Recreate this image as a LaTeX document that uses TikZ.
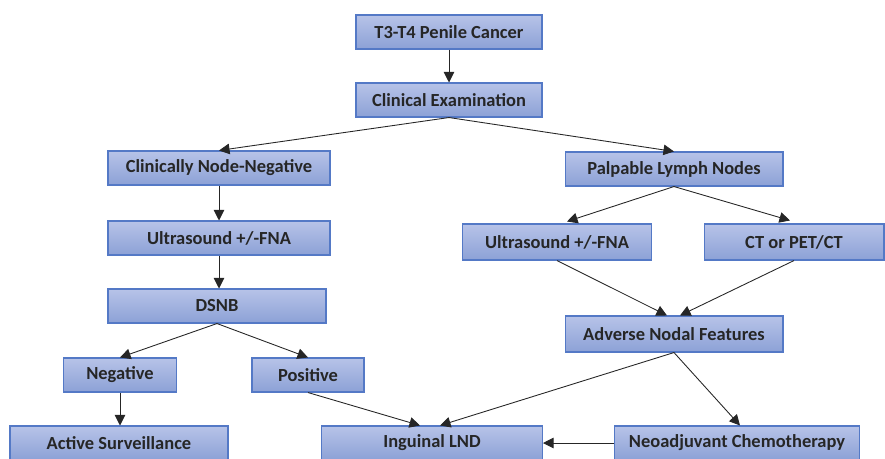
\documentclass[tikz,border=0pt]{standalone}
\usepackage{fontspec}
\setmainfont{Carlito}
\usepackage{tikz}
\usetikzlibrary{arrows.meta,calc,positioning}
\definecolor{boxtop}{HTML}{B7C3E8}
\definecolor{boxmid}{HTML}{A4B3E0}
\definecolor{boxbot}{HTML}{8CA1D6}
\definecolor{boxline}{HTML}{5479C6}
\definecolor{txt}{HTML}{262626}

\begin{document}
\begin{tikzpicture}[x=0.02cm, y=-0.02cm,
  stepbox/.style={draw=boxline, line width=0.6pt, top color=boxtop, middle color=boxmid,
    bottom color=boxbot, minimum height=0.68cm, inner sep=0pt,
    font=\bfseries\fontsize{10.5}{12}\selectfont, text=txt},
  arr/.style={-{Triangle[length=6pt,width=6pt]}, line width=0.5pt, black!85}]
\useasboundingbox (0,0) rectangle (885,458);
% Ramo centrale
\node[stepbox, minimum width=3.72cm] (canc) at (449,32) {T3-T4 Penile Cancer};
\node[stepbox, minimum width=3.72cm] (clin) at (449,100) {Clinical Examination};
% Ramo sinistro (cN0)
\node[stepbox, minimum width=4.44cm] (cnn) at (219,168) {Clinically Node-Negative};
\node[stepbox, minimum width=4.44cm] (usl) at (219,238) {Ultrasound +/-FNA};
\node[stepbox, minimum width=4.36cm] (dsnb) at (217,306) {DSNB};
\node[stepbox, minimum width=2.26cm] (neg) at (120,375) {Negative};
\node[stepbox, minimum width=2.24cm] (pos) at (308,375) {Positive};
\node[stepbox, minimum width=4.36cm] (surv) at (119,443) {Active Surveillance};
% Ramo destro (cN+)
\node[stepbox, minimum width=4.36cm] (palp) at (674,169) {Palpable Lymph Nodes};
\node[stepbox, minimum width=3.78cm, minimum height=0.72cm] (usr) at (557,242) {Ultrasound +/-FNA};
\node[stepbox, minimum width=3.6cm, minimum height=0.72cm] (ct) at (794,242) {CT or PET/CT};
\node[stepbox, minimum width=4.36cm, minimum height=0.72cm] (adv) at (674,334) {Adverse Nodal Features};
% Fondo
\node[stepbox, minimum width=4.42cm] (lnd) at (432,443) {Inguinal LND};
\node[stepbox, minimum width=4.9cm] (chemo) at (737,443) {Neoadjuvant Chemotherapy};
% Frecce
\draw[arr] (canc) -- (clin);
\draw[arr] (clin.south) -- (cnn.north);
\draw[arr] (clin.south) -- (palp.north);
\draw[arr] (cnn) -- (usl);
\draw[arr] (usl.south) -- (usl.south |- dsnb.north);
\draw[arr] (dsnb.south) -- (neg.north);
\draw[arr] (dsnb.south) -- (pos.north);
\draw[arr] (neg) -- (neg |- surv.north);
\draw[arr] (palp.south) -- ($(usr.north)+(10,-2)$);
\draw[arr] (palp.south) -- ($(ct.north)+(-4,-3)$);
\draw[arr] (usr.south) -- ($(adv.north)+(-7,0)$);
\draw[arr] (ct.south) -- ($(adv.north)+(6,0)$);
\draw[arr] (pos.south) -- ($(lnd.north)+(-12,0)$);
\draw[arr] (adv.south) -- ($(lnd.north)+(8,0)$);
\draw[arr] (adv.south) -- ($(chemo.north)+(3,0)$);
\draw[arr] (chemo.west) -- (lnd.east);
\end{tikzpicture}
\end{document}
